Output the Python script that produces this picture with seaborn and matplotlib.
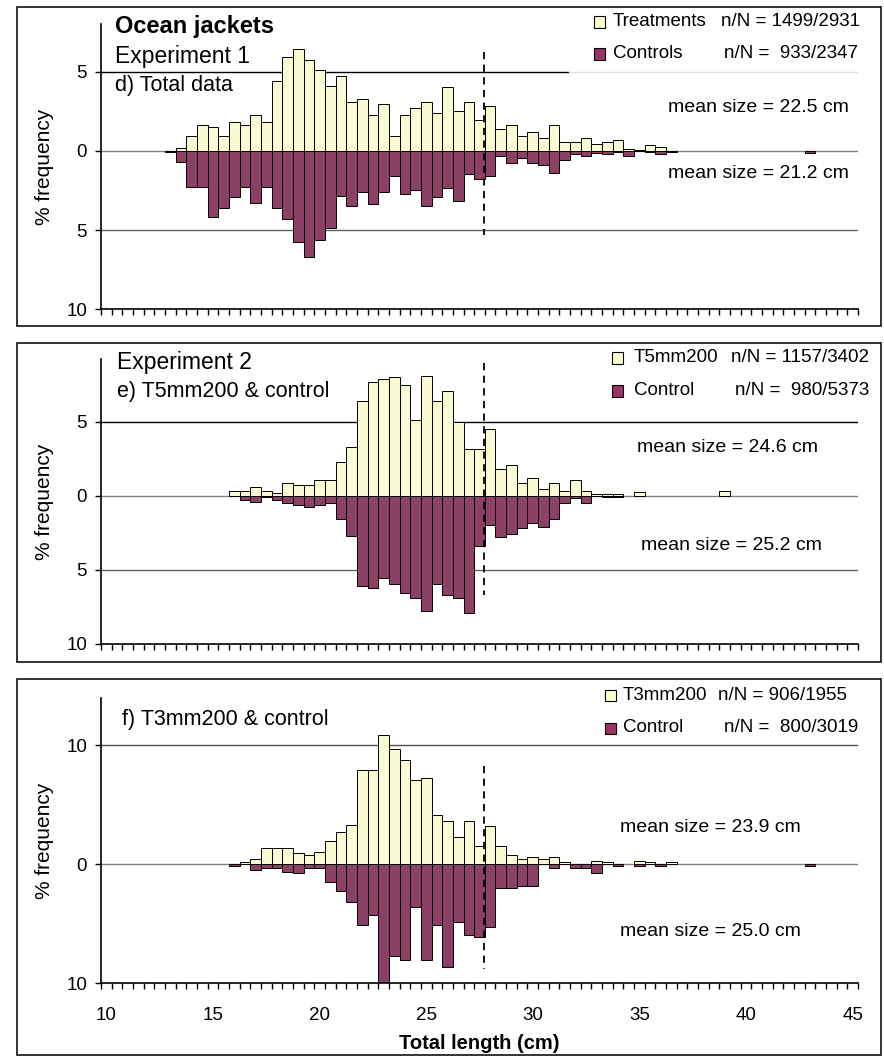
import numpy as np
import pandas as pd
import matplotlib
matplotlib.use("Agg")
import matplotlib.pyplot as plt
from matplotlib.patches import Rectangle
import seaborn as sns

W, H = 884, 1057

# d) Experiment 1, total data  (% frequency per 0.5 cm length class)
len_d = [13, 13.5, 14, 14.5, 15, 15.5, 16, 16.5, 17, 17.5, 18, 18.5, 19, 19.5,
         20, 20.5, 21, 21.5, 22, 22.5, 23, 23.5, 24, 24.5, 25, 25.5, 26, 26.5,
         27, 27.5, 28, 28.5, 29, 29.5, 30, 30.5, 31, 31.5, 32, 32.5, 33, 33.5,
         34, 34.5, 35, 35.5, 36, 36.5, 43]
treat_d = [0, 0.15, 0.92, 1.6, 1.49, 0.92, 1.83, 1.6, 2.27, 1.83, 4.43, 5.9, 6.45,
           5.76, 5.1, 4.1, 4.75, 3.07, 3.28, 2.27, 2.94, 0.92, 2.27, 2.73, 3.07,
           2.37, 4.0, 2.5, 3.07, 1.93, 2.84, 1.37, 1.6, 0.92, 1.16, 0.8, 1.6, 0.57,
           0.57, 0.82, 0.46, 0.57, 0.69, 0.13, 0.05, 0.34, 0.23, 0, 0]
ctrl_d = [0.1, 0.69, 2.27, 2.27, 4.2, 3.63, 2.94, 2.27, 3.28, 2.27, 3.63, 4.31, 5.78,
          6.68, 5.63, 4.9, 2.84, 3.5, 2.6, 3.38, 2.6, 1.58, 2.71, 2.5, 3.5, 2.94,
          2.37, 3.17, 1.45, 1.8, 1.58, 0.34, 0.8, 0.44, 0.8, 0.9, 1.37, 0.57, 0.23,
          0.34, 0.13, 0.23, 0.1, 0.34, 0, 0.1, 0.23, 0.1, 0.12]

# e) Experiment 2, T5mm200 & control
len_e = [16, 16.5, 17, 17.5, 18, 18.5, 19, 19.5, 20, 20.5, 21, 21.5, 22, 22.5, 23,
         23.5, 24, 24.5, 25, 25.5, 26, 26.5, 27, 27.5, 28, 28.5, 29, 29.5, 30, 30.5,
         31, 31.5, 32, 32.5, 33, 33.5, 34, 35, 39]
treat_e = [0.34, 0.34, 0.6, 0.34, 0.2, 0.83, 0.7, 0.7, 1.08, 1.08, 2.27, 3.26, 6.4,
           7.64, 7.84, 7.98, 7.48, 5.08, 8.09, 6.4, 7.03, 4.94, 3.12, 3.12, 4.47,
           1.78, 2.04, 0.83, 1.19, 0.47, 0.83, 0.34, 1.08, 0.34, 0.1, 0.1, 0.1,
           0.22, 0.34]
ctrl_e = [0, 0.27, 0.4, 0.11, 0.27, 0.52, 0.63, 0.76, 0.63, 0.52, 1.6, 2.7, 6.07,
          6.2, 5.57, 5.98, 6.58, 6.92, 7.8, 5.98, 6.7, 6.92, 7.9, 3.42, 1.96, 2.81,
          2.56, 2.2, 1.84, 2.09, 1.6, 0.52, 0.16, 0.52, 0, 0.1, 0.1, 0, 0]

# f) Experiment 2, T3mm200 & control
len_f = [16, 16.5, 17, 17.5, 18, 18.5, 19, 19.5, 20, 20.5, 21, 21.5, 22, 22.5, 23,
         23.5, 24, 24.5, 25, 25.5, 26, 26.5, 27, 27.5, 28, 28.5, 29, 29.5, 30, 30.5,
         31, 31.5, 32, 32.5, 33, 33.5, 34, 35, 35.5, 36, 36.5, 43]
treat_f = [0, 0.22, 0.48, 1.35, 1.35, 1.35, 0.9, 0.76, 1.04, 1.94, 2.7, 3.31, 7.87,
           7.87, 10.87, 9.66, 8.76, 7.1, 7.28, 4.1, 3.62, 2.28, 3.62, 1.49, 3.17,
           1.49, 0.76, 0.45, 0.62, 0.45, 0.62, 0.17, 0, 0, 0.31, 0.17, 0, 0.31,
           0.17, 0, 0.17, 0]
ctrl_f = [0.17, 0, 0.45, 0.28, 0.28, 0.62, 0.76, 0.31, 0.31, 1.52, 2.25, 3.17, 5.14,
          4.27, 9.86, 7.67, 8.03, 3.62, 8.03, 5.14, 8.62, 4.86, 5.93, 6.07, 5.28,
          1.97, 1.97, 1.8, 1.8, 0, 0.31, 0, 0.31, 0.31, 0.76, 0, 0.14, 0.14, 0,
          0.14, 0, 0.14]

legal_length = 27.7
x_labels = [10, 15, 20, 25, 30, 35, 40, 45]

TREAT_COL = "#FFFFCC"
CTRL_COL = "#993366"

sns.set_theme(style="white")
plt.rcParams["font.family"] = ["Liberation Sans", "DejaVu Sans"]
plt.rcParams["text.color"] = "black"
plt.rcParams["axes.labelcolor"] = "black"
plt.rcParams["xtick.color"] = "black"
plt.rcParams["ytick.color"] = "black"


def fx(x):
    return x / W


def fy(y):
    return 1 - y / H


def draw_panel(ax, lengths, treat, ctrl, ylim, yticks, ylabels, grids, dash, show_x):
    df = pd.DataFrame({
        "length": lengths + lengths,
        "pct": treat + [-v for v in ctrl],
        "group": ["T"] * len(lengths) + ["C"] * len(lengths),
    })
    df = df[df["pct"] != 0]
    sns.barplot(data=df, x="length", y="pct", hue="group", hue_order=["T", "C"],
                palette={"T": TREAT_COL, "C": CTRL_COL}, native_scale=True,
                dodge=False, width=1.0, edgecolor="black", linewidth=0.7,
                errorbar=None, legend=False, ax=ax, zorder=2)
    for level, col, xmax in grids:
        ax.axhline(level, color=col, lw=1.0, xmax=xmax, zorder=1)
    ax.axhline(0, color="#808080", lw=1.0, zorder=1)
    ax.plot([legal_length, legal_length], dash, color="black", lw=1.3,
            ls=(0, (4, 3)), zorder=3)
    ax.set_xlim(9.75, 45.25)
    ax.set_ylim(*ylim)
    ax.set_yticks(yticks)
    ax.set_yticklabels(ylabels)
    ax.set_xticks(x_labels)
    ax.set_xticks(np.arange(9.75, 45.3, 0.5), minor=True)
    ax.set_xticklabels([str(v) for v in x_labels] if show_x else [])
    ax.tick_params(axis="y", direction="out", length=4, width=1, color="black",
                   labelsize=13.5, pad=6, left=True, labelcolor="black")
    ax.tick_params(axis="x", which="major", length=0, labelsize=13.5, pad=17,
                   bottom=True, labelcolor="black")
    ax.tick_params(axis="x", which="minor", direction="out", length=4, width=1,
                   color="black", bottom=True)
    for s in ["top", "right"]:
        ax.spines[s].set_visible(False)
    for s in ["left", "bottom"]:
        ax.spines[s].set_color("black")
        ax.spines[s].set_linewidth(1.2)
    ax.set_xlabel("")
    ax.set_ylabel("")


fig = plt.figure(figsize=(W / 100, H / 100), dpi=100)

# panel frames
for top, bot in [(7, 326), (343, 662), (679, 1055)]:
    fig.patches.append(Rectangle((fx(17), fy(bot)), fx(881) - fx(17), fy(top) - fy(bot),
                                 transform=fig.transFigure, fill=False,
                                 edgecolor="#111111", lw=1.2, zorder=0))

ax_d = fig.add_axes([fx(101), fy(309.3), fx(858) - fx(101), fy(24) - fy(309.3)])
ax_e = fig.add_axes([fx(101), fy(644), fx(858) - fx(101), fy(359.3) - fy(644)])
ax_f = fig.add_axes([fx(101), fy(983.3), fx(858) - fx(101), fy(697.5) - fy(983.3)])

lg = (569 - 101) / (858 - 101)
draw_panel(ax_d, len_d, treat_d, ctrl_d, (-10, 8), [5, 0, -5, -10], ["5", "0", "5", "10"],
           [(5, "black", lg), (-5, "#606060", 1)], (6.22, -5.31), False)
ax_d.axhline(5, xmin=lg, color="#e0e0e0", lw=1.0, zorder=1)
draw_panel(ax_e, len_e, treat_e, ctrl_e, (-10, 9.2), [5, 0, -5, -10], ["5", "0", "5", "10"],
           [(5, "black", 1), (-5, "#606060", 1)], (8.95, -6.7), False)
draw_panel(ax_f, len_f, treat_f, ctrl_f, (-10, 14), [10, 0, -10], ["10", "0", "10"],
           [(10, "#505050", 1)], (8.28, -8.82), True)
ax_f.set_xlabel("Total length (cm)", fontsize=14.5, fontweight="bold", labelpad=7,
                color="black")

# y labels
for top, bot in [(24, 309.3), (359.3, 644), (697.5, 983.3)]:
    fig.text(fx(45), fy((top + bot) / 2), "% frequency", rotation=90,
             ha="center", va="center", fontsize=15)

# panel headings
fig.text(fx(115), fy(27), "Ocean jackets", fontsize=17, fontweight="bold", va="center")
fig.text(fx(115), fy(56), "Experiment 1", fontsize=16.5, va="center")
fig.text(fx(115), fy(86), "d) Total data", fontsize=15.5, va="center")
fig.text(fx(117), fy(363), "Experiment 2", fontsize=16.5, va="center")
fig.text(fx(117), fy(392), "e) T5mm200 & control", fontsize=15.5, va="center")
fig.text(fx(122), fy(719), "f) T3mm200 & control", fontsize=15.5, va="center")


def legend_row(xsq, ycen, color, name, nn, xname, xright):
    fig.patches.append(Rectangle((fx(xsq), fy(ycen + 5.5)), fx(11), 11 / H,
                                 transform=fig.transFigure, facecolor=color,
                                 edgecolor="black", lw=0.8, zorder=5))
    fig.text(fx(xname), fy(ycen), name, fontsize=13.5, va="center")
    fig.text(fx(xright), fy(ycen), nn, fontsize=13.5, va="center", ha="right")


legend_row(594, 22, TREAT_COL, "Treatments", "n/N = 1499/2931", 613, 860)
legend_row(594, 54, CTRL_COL, "Controls", "n/N =  933/2347", 613, 858)
legend_row(612, 358, TREAT_COL, "T5mm200", "n/N = 1157/3402", 634, 869)
legend_row(612, 391, CTRL_COL, "Control", "n/N =  980/5373", 634, 869)
legend_row(605, 695, TREAT_COL, "T3mm200", "n/N = 906/1955", 623, 847)
legend_row(605, 728, CTRL_COL, "Control", "n/N =  800/3019", 623, 858)

# mean sizes
for xr, yc, txt in [(849, 108, "mean size = 22.5 cm"), (849, 174, "mean size = 21.2 cm"),
                    (818, 448, "mean size = 24.6 cm"), (822, 545, "mean size = 25.2 cm"),
                    (801, 827, "mean size = 23.9 cm"), (801, 931, "mean size = 25.0 cm")]:
    fig.text(fx(xr), fy(yc), txt, fontsize=14, ha="right", va="center")

fig.savefig("out.png", dpi=100)
